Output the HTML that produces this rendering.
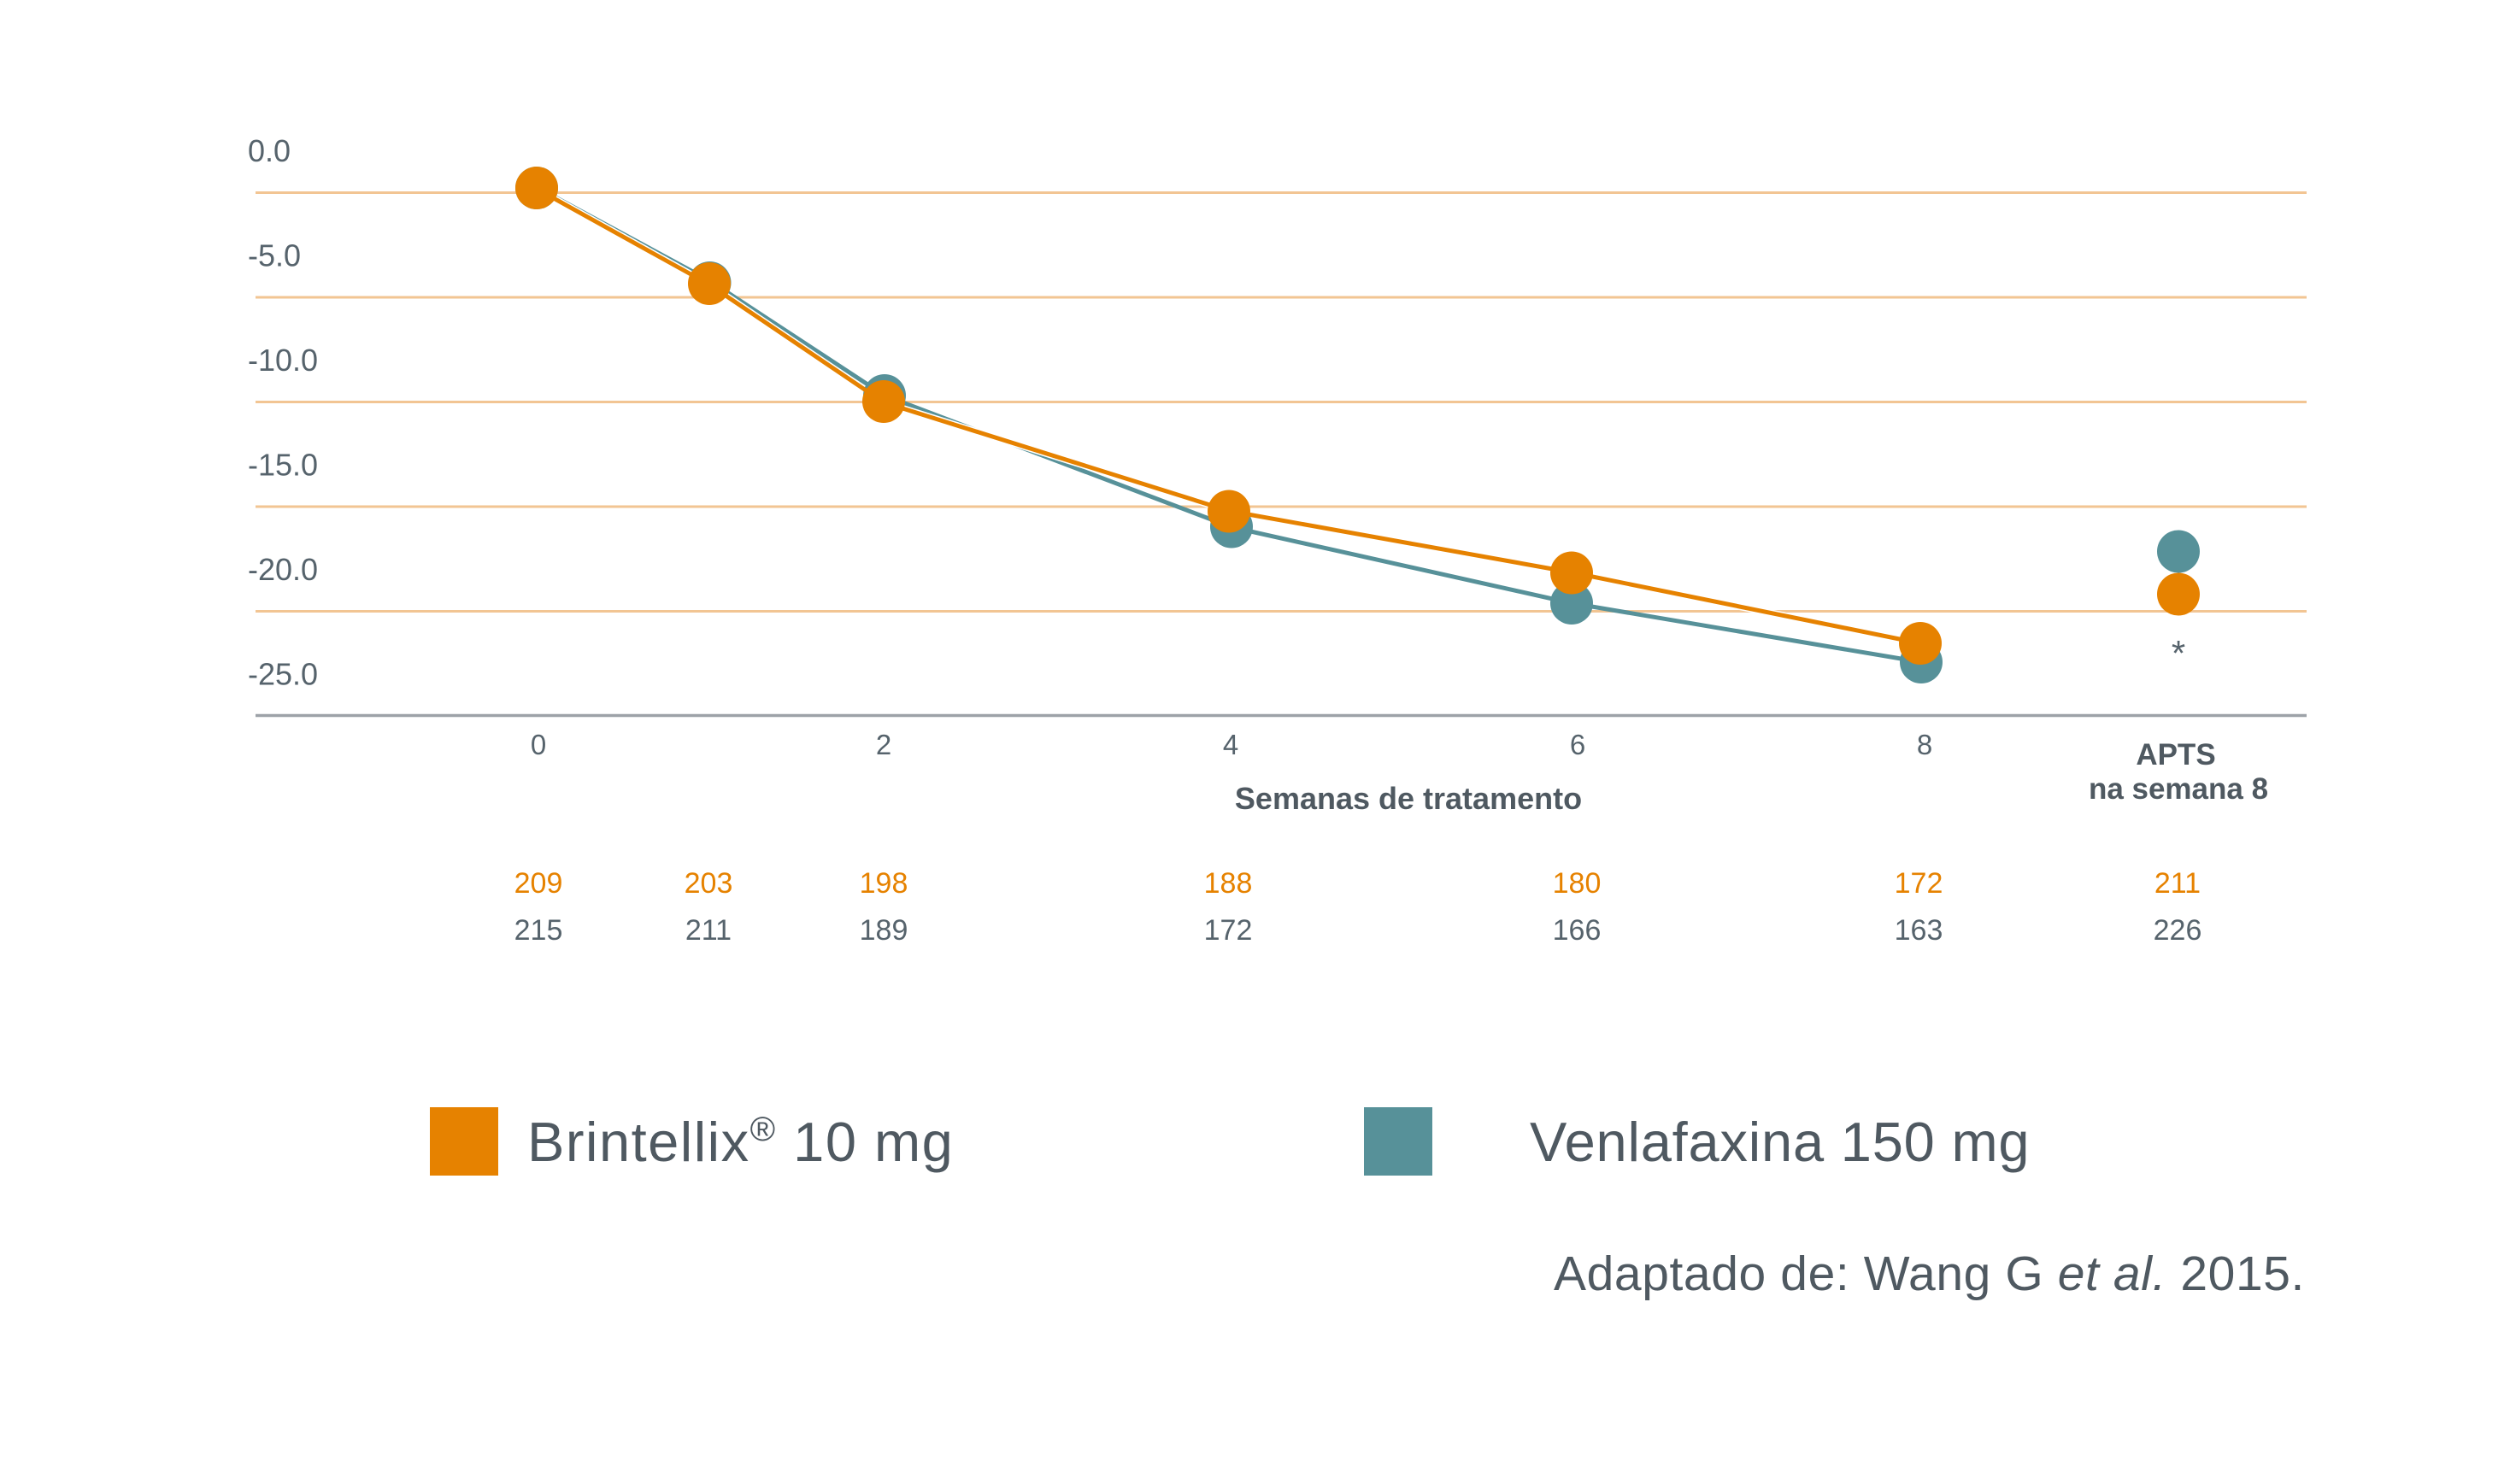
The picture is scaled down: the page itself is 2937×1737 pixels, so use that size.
<!DOCTYPE html>
<html>
<head>
<meta charset="utf-8">
<style>
  html, body { margin:0; padding:0; background:#ffffff; }
  svg { display:block; }
  text { font-family: "Liberation Sans", Arial, sans-serif; }
</style>
</head>
<body>
<svg width="2937" height="1737" viewBox="0 0 2937 1737" xmlns="http://www.w3.org/2000/svg">
  <rect width="2937" height="1737" fill="#ffffff"/>

  <!-- gridlines -->
  <g stroke="#f2c593" stroke-width="3">
    <line x1="299" y1="225.5" x2="2699" y2="225.5"/>
    <line x1="299" y1="348" x2="2699" y2="348"/>
    <line x1="299" y1="470.5" x2="2699" y2="470.5"/>
    <line x1="299" y1="593" x2="2699" y2="593"/>
    <line x1="299" y1="715.5" x2="2699" y2="715.5"/>
  </g>
  <!-- axis -->
  <line x1="299" y1="837.5" x2="2699" y2="837.5" stroke="#9da2a8" stroke-width="3.5"/>

  <!-- y tick labels -->
  <g fill="#56636c" font-size="36">
    <text x="290" y="189">0.0</text>
    <text x="290" y="311.5">-5.0</text>
    <text x="290" y="434">-10.0</text>
    <text x="290" y="556.5">-15.0</text>
    <text x="290" y="679">-20.0</text>
    <text x="290" y="801.5">-25.0</text>
  </g>

  <!-- teal series -->
  <polyline points="628,219 831,329 1035,463 1441,617 1839,706 2248,775" fill="none" stroke="#579199" stroke-width="5" stroke-linejoin="round"/>
  <!-- white halo for orange line -->
  <polyline points="628,221 830,333 1034,471 1438,598 1839,670 2247,753" fill="none" stroke="#ffffff" stroke-width="8" stroke-linejoin="round"/>
  <!-- teal markers -->
  <g fill="#579199">
    <circle cx="628" cy="220" r="25"/>
    <circle cx="830.5" cy="331" r="25"/>
    <circle cx="1035" cy="463" r="25"/>
    <circle cx="1441" cy="616.5" r="25"/>
    <circle cx="1839" cy="706" r="25"/>
    <circle cx="2248" cy="775" r="25"/>
    <circle cx="2549" cy="645.5" r="25"/>
  </g>
  <!-- orange series -->
  <polyline points="628,221 830,333 1034,471 1438,598 1839,670 2247,753" fill="none" stroke="#e68200" stroke-width="5" stroke-linejoin="round"/>
  <g fill="#e68200">
    <circle cx="628" cy="220" r="25"/>
    <circle cx="830" cy="332" r="25"/>
    <circle cx="1034" cy="470" r="25"/>
    <circle cx="1438" cy="598.5" r="25"/>
    <circle cx="1839" cy="670.5" r="25"/>
    <circle cx="2247" cy="753" r="25"/>
    <circle cx="2549" cy="695.5" r="25"/>
  </g>

  <!-- asterisk -->
  <text x="2549" y="779" font-size="42" fill="#56636c" text-anchor="middle">*</text>

  <!-- x tick labels -->
  <g fill="#56636c" font-size="33" text-anchor="middle">
    <text x="630" y="883">0</text>
    <text x="1034" y="883">2</text>
    <text x="1440" y="883">4</text>
    <text x="1846" y="883">6</text>
    <text x="2252" y="883">8</text>
  </g>
  <g fill="#4f5961" font-size="35" font-weight="bold" text-anchor="middle">
    <text x="2546" y="895">APTS</text>
    <text x="2549" y="935">na semana 8</text>
    <text x="1648" y="947" font-size="36">Semanas de tratamento</text>
  </g>

  <!-- counts -->
  <g fill="#e68200" font-size="34" text-anchor="middle">
    <text x="630" y="1045">209</text>
    <text x="829" y="1045">203</text>
    <text x="1034" y="1045">198</text>
    <text x="1437" y="1045">188</text>
    <text x="1845" y="1045">180</text>
    <text x="2245" y="1045">172</text>
    <text x="2548" y="1045">211</text>
  </g>
  <g fill="#56636c" font-size="34" text-anchor="middle">
    <text x="630" y="1100">215</text>
    <text x="829" y="1100">211</text>
    <text x="1034" y="1100">189</text>
    <text x="1437" y="1100">172</text>
    <text x="1845" y="1100">166</text>
    <text x="2245" y="1100">163</text>
    <text x="2548" y="1100">226</text>
  </g>

  <!-- legend -->
  <rect x="503" y="1296" width="80" height="80" fill="#e68200"/>
  <text x="617" y="1359" font-size="65" fill="#4f5961" letter-spacing="1.5">Brintellix<tspan font-size="40" dy="-24">®</tspan><tspan dy="24"> 10 mg</tspan></text>
  <rect x="1596" y="1296" width="80" height="80" fill="#579199"/>
  <text x="1790" y="1359" font-size="65" fill="#4f5961" letter-spacing="0.8">Venlafaxina 150 mg</text>

  <!-- citation -->
  <text x="2697" y="1510" font-size="57" fill="#4f5961" text-anchor="end" letter-spacing="0.6">Adaptado de: Wang G <tspan font-style="italic">et al.</tspan> 2015.</text>
</svg>
</body>
</html>
